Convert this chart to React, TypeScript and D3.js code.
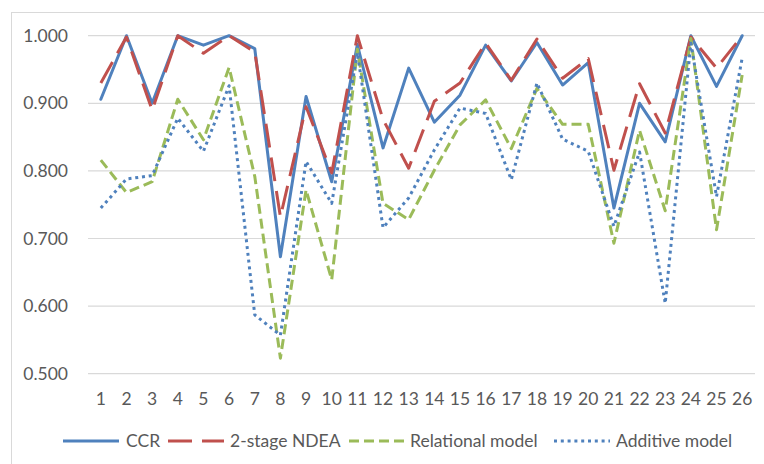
import React from 'react';
import * as d3 from 'd3';

const categories = Array.from({ length: 26 }, (_, i) => String(i + 1));
const yTicks = [0.5, 0.6, 0.7, 0.8, 0.9, 1.0];

const ccr = [0.906, 1.000, 0.900, 1.000, 0.986, 1.000, 0.981, 0.673, 0.910, 0.784, 0.987, 0.834, 0.952, 0.872, 0.912, 0.986, 0.933, 0.990, 0.927, 0.960, 0.745, 0.900, 0.843, 1.000, 0.925, 1.000];
const ndea = [0.930, 0.998, 0.890, 1.000, 0.974, 1.000, 0.976, 0.732, 0.895, 0.797, 1.000, 0.876, 0.804, 0.903, 0.930, 0.989, 0.934, 0.995, 0.937, 0.966, 0.801, 0.929, 0.856, 0.998, 0.952, 1.000];
const relational = [0.816, 0.768, 0.784, 0.906, 0.846, 0.953, 0.792, 0.523, 0.772, 0.639, 0.980, 0.752, 0.728, 0.801, 0.868, 0.905, 0.833, 0.922, 0.869, 0.869, 0.693, 0.860, 0.741, 0.996, 0.713, 0.942];
const additive = [0.745, 0.788, 0.793, 0.878, 0.829, 0.926, 0.587, 0.557, 0.814, 0.752, 0.975, 0.716, 0.760, 0.831, 0.893, 0.885, 0.787, 0.930, 0.847, 0.829, 0.718, 0.828, 0.604, 0.989, 0.762, 0.967];

const seriesNames = ['CCR', '2-stage NDEA', 'Relational model', 'Additive model'];

const W = 764;
const H = 464;
const FONT = "Lato, 'Open Sans', sans-serif";
const TEXT = '#595959';
const GRID = '#d9d9d9';

const App: React.FC = () => {
  const x = d3.scalePoint<string>().domain(categories).range([88, 755]).padding(0.5);
  const y = d3.scaleLinear().domain([0.5, 1.0]).range([373.7, 35.7]);

  const line = d3.line<number>()
    .x((_, i) => x(categories[i]) as number)
    .y(d => y(d));

  const series = [
    { name: seriesNames[0], values: ccr, color: '#4F81BD', dash: undefined as string | undefined, cap: 'round' },
    { name: seriesNames[1], values: ndea, color: '#C0504D', dash: '24 10', cap: 'butt' },
    { name: seriesNames[2], values: relational, color: '#9BBB59', dash: '10 5', cap: 'butt' },
    { name: seriesNames[3], values: additive, color: '#4F81BD', dash: '3 3.8', cap: 'butt' },
  ];

  // legend layout (line start, text start)
  const legendPos = [[63, 126], [168, 230], [349, 410], [554, 616]];
  const legendY = 441;

  return (
    <div style={{ position: 'absolute', left: 0, top: 0 }}>
      <svg width={W} height={H} style={{ display: 'block', background: '#fff' }}>
        <rect x={11.5} y={12.5} width={W + 20} height={H + 20} fill="#fff" stroke={GRID} strokeWidth={1} />

        {yTicks.map(t => (
          <g key={t}>
            <line x1={88} x2={755} y1={y(t)} y2={y(t)} stroke={GRID} strokeWidth={1.2} />
            <text x={68} y={y(t)} dy="0.35em" textAnchor="end" fontFamily={FONT} fontSize={17.5} fill={TEXT}>
              {d3.format('.3f')(t)}
            </text>
          </g>
        ))}

        {categories.map(c => (
          <text key={c} x={x(c)} y={405} textAnchor="middle" fontFamily={FONT} fontSize={17.5} fill={TEXT}>
            {c}
          </text>
        ))}

        {series.map(s => (
          <path key={s.name} d={line(s.values) || ''} fill="none" stroke={s.color} strokeWidth={3}
            strokeDasharray={s.dash} strokeLinejoin="round" strokeLinecap={s.cap as any} />
        ))}

        {series.map((s, i) => (
          <g key={s.name}>
            <line x1={legendPos[i][0]} x2={legendPos[i][0] + 56} y1={legendY} y2={legendY}
              stroke={s.color} strokeWidth={3} strokeDasharray={s.dash} />
            <text x={legendPos[i][1]} y={legendY} dy="0.35em" fontFamily={FONT} fontSize={17.5} fill={TEXT}>
              {s.name}
            </text>
          </g>
        ))}
      </svg>
    </div>
  );
};

export default App;
